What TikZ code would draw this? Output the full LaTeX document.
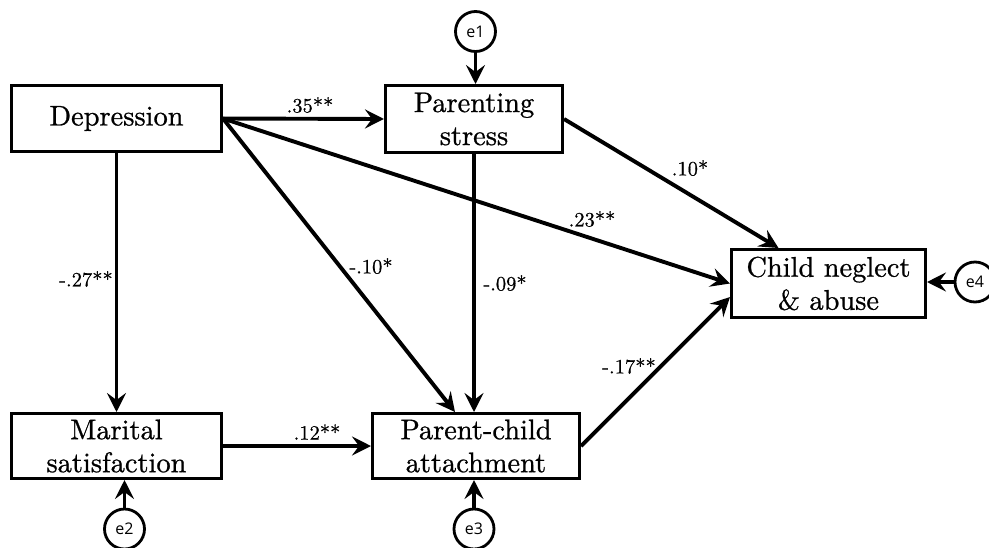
\documentclass[tikz,border=0pt]{standalone}
\usepackage{fontspec}
\newfontfamily\efont{Open Sans}
\newfontfamily\tenfont{lmroman10-regular}[Extension=.otf, FakeBold=0.8]
\newfontfamily\lblfont{lmroman10-regular}[Extension=.otf, FakeBold=0.6]
\usetikzlibrary{arrows.meta}
\begin{document}
\begin{tikzpicture}[x=1pt,y=-1pt,
  box/.style={draw, line width=3pt, inner sep=0pt, align=center, font=\tenfont\fontsize{28.4}{33}\selectfont},
  err/.style={draw, circle, line width=2.8pt, minimum size=40pt, inner sep=0pt, font=\efont\fontsize{16}{18}\selectfont},
  lbl/.style={inner sep=0pt, font=\lblfont\fontsize{20.5}{24}\selectfont},
  conn/.style={line width=3.9pt, -{Stealth[length=19pt,width=19pt,inset=7pt]}}
]
\useasboundingbox (0,0) rectangle (989,547);
\node[box, minimum width=210pt, minimum height=66pt] (dep) at (116.5,118.5) {Depression};
\node[box, minimum width=177pt, minimum height=67pt] (ps) at (474,119) {Parenting\\stress};
\node[box, minimum width=194pt, minimum height=68pt] (cn) at (828.5,283.5) {Child neglect\\\& abuse};
\node[box, minimum width=210pt, minimum height=65pt] (ms) at (116.5,446) {Marital\\satisfaction};
\node[box, minimum width=207pt, minimum height=65pt] (pc) at (476,446) {Parent-child\\attachment};

\node[err] (e1) at (475.5,31.5) {e1};
\node[err] (e2) at (124.5,529) {e2};
\node[err] (e3) at (474,529) {e3};
\node[err] (e4) at (975,282) {e4};

\draw[conn] (e1.south) -- (e1.south |- ps.north);
\draw[conn] (e2.north) -- (e2.north |- ms.south);
\draw[conn] (e3.north) -- (e3.north |- pc.south);
\draw[conn] (e4.west) -- (e4.west -| cn.east);

\draw[conn] (dep.east) -- (ps.west);
\draw[conn] (dep.south) -- (ms.north);
\draw[conn] (dep.east) -- ([xshift=-21pt]pc.north);
\draw[conn] (dep.east) -- (cn.west);
\draw[conn] (ps.south) -- (ps.south |- pc.north);
\draw[conn] (ps.east) -- ([xshift=-50pt]cn.north);
\draw[conn] (ms.east) -- (pc.west);
\draw[conn] (pc.east) -- ([yshift=-13.5pt]cn.west);

\node[lbl] (l35) at (310,105) {.35**};
\node[lbl] (l27) at (86,279) {-.27**};
\node[lbl] (l10a) at (690,168) {.10*};
\node[lbl] (l23) at (592,219) {.23**};
\node[lbl] (l10b) at (371,266) {-.10*};
\node[lbl] (l09) at (505,283) {-.09*};
\node[lbl] (l17) at (629,366) {-.17**};
\node[lbl] (l12) at (317,432) {.12**};
\end{tikzpicture}
\end{document}
